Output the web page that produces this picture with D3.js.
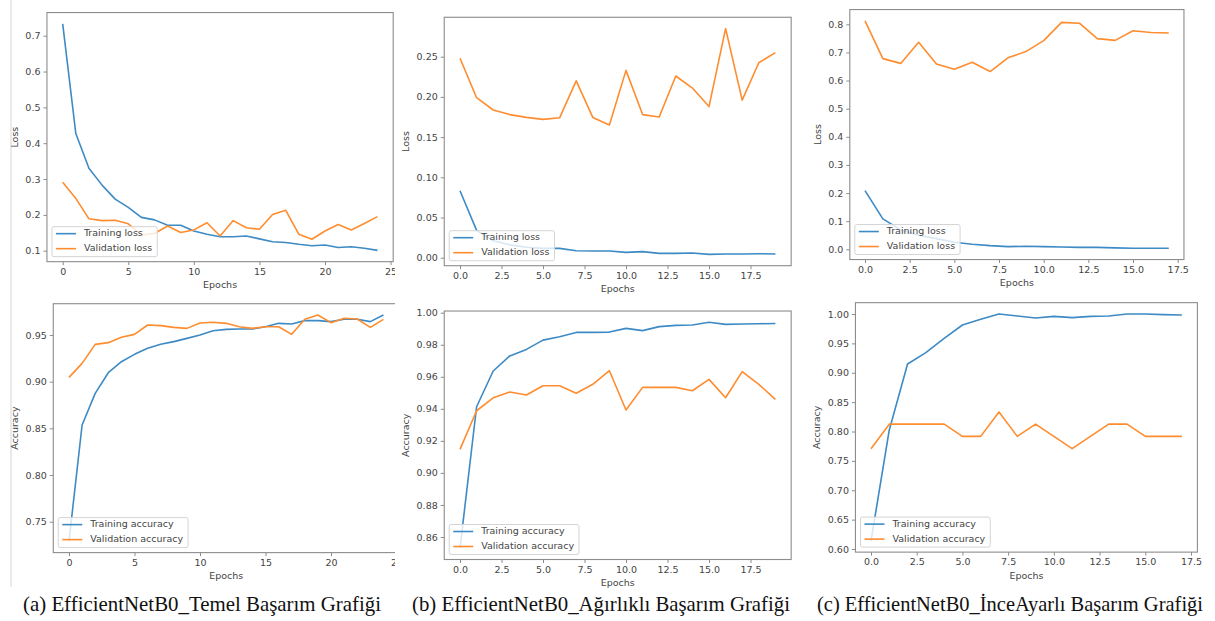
<!DOCTYPE html>
<html>
<head>
<meta charset="utf-8">
<script src="https://cdn.jsdelivr.net/npm/d3@7"></script>
<style>
body { margin: 0; background: #fff; }
svg { display: block; }
</style>
</head>
<body>
<svg id="fig" width="1215" height="621"></svg>
<script>
// epochs
const epochsA = d3.range(25);
const epochsB = d3.range(20);
const epochsC = d3.range(18);

// (a) Temel
const trainLossA = [0.733, 0.427, 0.330, 0.283, 0.244, 0.221, 0.193, 0.186, 0.171, 0.171, 0.155, 0.146, 0.139, 0.139, 0.141, 0.133, 0.125, 0.123, 0.118, 0.114, 0.116, 0.109, 0.111, 0.107, 0.101];
const valLossA = [0.291, 0.246, 0.189, 0.184, 0.185, 0.175, 0.144, 0.148, 0.169, 0.151, 0.158, 0.178, 0.141, 0.184, 0.164, 0.160, 0.201, 0.213, 0.146, 0.132, 0.155, 0.173, 0.158, 0.176, 0.195];
const trainAccA = [0.729, 0.8536, 0.8875, 0.9096, 0.9214, 0.9293, 0.9357, 0.940, 0.9429, 0.9464, 0.950, 0.9546, 0.956, 0.9564, 0.9564, 0.9589, 0.9625, 0.9618, 0.9654, 0.9654, 0.9643, 0.9668, 0.9668, 0.9643, 0.9714];
const valAccA = [0.9046, 0.9196, 0.940, 0.9418, 0.9475, 0.9507, 0.9607, 0.960, 0.9582, 0.9571, 0.9629, 0.9636, 0.9625, 0.9589, 0.9571, 0.9589, 0.9589, 0.9507, 0.9668, 0.9714, 0.9632, 0.9679, 0.9671, 0.9582, 0.9668];

// (b) Ağırlıklı
const trainLossB = [0.0833, 0.034, 0.021, 0.016, 0.013, 0.0116, 0.0116, 0.0087, 0.0083, 0.0083, 0.0066, 0.0075, 0.0054, 0.0054, 0.0058, 0.0041, 0.0046, 0.0046, 0.005, 0.0046];
const valLossB = [0.248, 0.199, 0.1837, 0.178, 0.1745, 0.172, 0.174, 0.220, 0.1745, 0.165, 0.233, 0.178, 0.175, 0.226, 0.211, 0.188, 0.285, 0.196, 0.2425, 0.255];
const trainAccB = [0.853, 0.9413, 0.9636, 0.973, 0.9771, 0.9829, 0.985, 0.9877, 0.9877, 0.9879, 0.9902, 0.9888, 0.9913, 0.9921, 0.9923, 0.994, 0.9927, 0.9929, 0.9931, 0.9933];
const valAccB = [0.9147, 0.9388, 0.9469, 0.9505, 0.9486, 0.9544, 0.9544, 0.9497, 0.9553, 0.9638, 0.9393, 0.9534, 0.9534, 0.9534, 0.9513, 0.9584, 0.9469, 0.9632, 0.9553, 0.9459];

// (c) İnceAyarlı
const trainLossC = [0.2085, 0.108, 0.069, 0.05, 0.038, 0.025, 0.018, 0.013, 0.0095, 0.011, 0.0095, 0.008, 0.007, 0.007, 0.005, 0.004, 0.004, 0.004];
const valLossC = [0.812, 0.678, 0.661, 0.736, 0.659, 0.640, 0.665, 0.632, 0.681, 0.703, 0.742, 0.807, 0.804, 0.749, 0.743, 0.777, 0.771, 0.769];
const trainAccC = [0.614, 0.8026, 0.9149, 0.9342, 0.9586, 0.9813, 0.9909, 1.0, 0.9966, 0.9932, 0.996, 0.9938, 0.996, 0.9966, 1.0, 1.0, 0.9989, 0.9983];
const valAccC = [0.7708, 0.8125, 0.8125, 0.8125, 0.8125, 0.7917, 0.7917, 0.8333, 0.7917, 0.8125, 0.7917, 0.7708, 0.7917, 0.8125, 0.8125, 0.7917, 0.7917, 0.7917];

// tick labels
const xTicksA = [0, 5, 10, 15, 20, 25];
const xTicksBC = [0, 2.5, 5, 7.5, 10, 12.5, 15, 17.5];
const yTicksLossA = [0.1, 0.2, 0.3, 0.4, 0.5, 0.6, 0.7];
const yTicksLossB = [0, 0.05, 0.10, 0.15, 0.20, 0.25];
const yTicksLossC = [0, 0.1, 0.2, 0.3, 0.4, 0.5, 0.6, 0.7, 0.8];
const yTicksAccA = [0.75, 0.80, 0.85, 0.90, 0.95];
const yTicksAccB = [0.86, 0.88, 0.90, 0.92, 0.94, 0.96, 0.98, 1.00];
const yTicksAccC = [0.60, 0.65, 0.70, 0.75, 0.80, 0.85, 0.90, 0.95, 1.00];

const captions = [
  {text: '(a) EfficientNetB0_Temel Başarım Grafiği', x: 23, w: 358},
  {text: '(b) EfficientNetB0_Ağırlıklı Başarım Grafiği', x: 412, w: 378},
  {text: '(c) EfficientNetB0_İnceAyarlı Başarım Grafiği', x: 817, w: 386}
];

const blue = '#3d8ac4', orange = '#ff8c2e';
const textCol = '#444', frameCol = '#8c8c8c';
const font = '"DejaVu Sans", sans-serif';

// layout: pixel positions of two reference ticks per axis
const panels = [
  {x: epochsA, train: trainLossA, val: valLossA, kind: 'loss', xt: xTicksA, xf: d3.format('d'), yt: yTicksLossA, yf: d3.format('.1f'),
   xd: [0, 20], xr: [62.7, 325], yd: [0.1, 0.7], yr: [250.7, 35.7], ylabX: 15, clip: 395},
  {x: epochsB, train: trainLossB, val: valLossB, kind: 'loss', xt: xTicksBC, xf: d3.format('.1f'), yt: yTicksLossB, yf: d3.format('.2f'),
   xd: [0, 17.5], xr: [460, 750.5], yd: [0, 0.25], yr: [257.7, 56.7], ylabX: 406.7},
  {x: epochsC, train: trainLossC, val: valLossC, kind: 'loss', xt: xTicksBC, xf: d3.format('.1f'), yt: yTicksLossC, yf: d3.format('.1f'),
   xd: [0, 17.5], xr: [865, 1177.7], yd: [0, 0.8], yr: [249.3, 24.3], ylabX: 818},
  {x: epochsA, train: trainAccA, val: valAccA, kind: 'accuracy', xt: xTicksA, xf: d3.format('d'), yt: yTicksAccA, yf: d3.format('.2f'),
   xd: [0, 20], xr: [69, 331], yd: [0.75, 0.95], yr: [521.7, 335], ylabX: 15, clip: 395},
  {x: epochsB, train: trainAccB, val: valAccB, kind: 'accuracy', xt: xTicksBC, xf: d3.format('.1f'), yt: yTicksAccB, yf: d3.format('.2f'),
   xd: [0, 17.5], xr: [460, 750.5], yd: [0.86, 1.0], yr: [537, 312.7], ylabX: 406.7},
  {x: epochsC, train: trainAccC, val: valAccC, kind: 'accuracy', xt: xTicksBC, xf: d3.format('.1f'), yt: yTicksAccC, yf: d3.format('.2f'),
   xd: [0, 17.5], xr: [871, 1191], yd: [0.6, 1.0], yr: [549, 314], ylabX: 817.7}
];

const svg = d3.select('#fig');

// thin page border line on the left of the first column
svg.append('line').attr('x1', 11).attr('x2', 11).attr('y1', 0).attr('y2', 587)
  .attr('stroke', '#d6d6d6').attr('stroke-width', 1);

panels.forEach((p, i) => {
  const xs = d3.scaleLinear().domain(p.xd).range(p.xr);
  const ys = d3.scaleLinear().domain(p.yd).range(p.yr);
  const n = p.x.length - 1;
  const all = p.train.concat(p.val);
  const lo = d3.min(all), hi = d3.max(all), m = (hi - lo) * 0.05;
  const L = xs(-0.05 * n), R = xs(1.05 * n), T = ys(hi + m), B = ys(lo - m);

  let g = svg.append('g');
  if (p.clip) {
    svg.append('clipPath').attr('id', 'clip' + i)
      .append('rect').attr('x', 0).attr('y', 0).attr('width', p.clip).attr('height', 621);
    g.attr('clip-path', `url(#clip${i})`);
  }

  // axes
  const xa = g.append('g').attr('transform', `translate(0,${B})`)
    .call(d3.axisBottom(xs).tickValues(p.xt).tickFormat(p.xf).tickSize(3.5).tickPadding(3));
  const ya = g.append('g').attr('transform', `translate(${L},0)`)
    .call(d3.axisLeft(ys).tickValues(p.yt).tickFormat(p.yf).tickSize(3.5).tickPadding(3));
  [xa, ya].forEach(a => {
    a.select('.domain').remove();
    a.selectAll('line').attr('stroke', frameCol);
    a.selectAll('text').attr('fill', textCol).style('font', `9.5px ${font}`);
  });

  const line = d3.line().x((d, j) => xs(p.x[j])).y(d => ys(d));
  g.append('path').datum(p.train).attr('d', line)
    .attr('fill', 'none').attr('stroke', blue).attr('stroke-width', 1.6).attr('stroke-linejoin', 'round');
  g.append('path').datum(p.val).attr('d', line)
    .attr('fill', 'none').attr('stroke', orange).attr('stroke-width', 1.6).attr('stroke-linejoin', 'round');

  g.append('rect').attr('x', L).attr('y', T).attr('width', R - L).attr('height', B - T)
    .attr('fill', 'none').attr('stroke', frameCol).attr('stroke-width', 1.1);

  // axis labels
  g.append('text').attr('x', (L + R) / 2).attr('y', B + 24).attr('text-anchor', 'middle')
    .attr('dominant-baseline', 'middle').attr('fill', textCol).style('font', `9.5px ${font}`).text('Epochs');
  g.append('text').attr('transform', `translate(${p.ylabX},${(T + B) / 2}) rotate(-90)`)
    .attr('text-anchor', 'middle').attr('dominant-baseline', 'middle')
    .attr('fill', textCol).style('font', `9.5px ${font}`)
    .text(p.kind === 'loss' ? 'Loss' : 'Accuracy');

  // legend, lower left
  const names = ['Training ' + p.kind, 'Validation ' + p.kind];
  const lg = g.append('g');
  const box = lg.append('rect');
  const lx = L + 5, ly = B - 5 - 30;
  let w = 0;
  names.forEach((nm, k) => {
    const yy = ly + 7 + k * 15;
    lg.append('line').attr('x1', lx + 4).attr('x2', lx + 24).attr('y1', yy).attr('y2', yy)
      .attr('stroke', k ? orange : blue).attr('stroke-width', 1.6);
    const t = lg.append('text').attr('x', lx + 32).attr('y', yy).attr('dominant-baseline', 'middle')
      .attr('fill', textCol).style('font', `9.5px ${font}`).text(nm);
    w = Math.max(w, t.node().getComputedTextLength());
  });
  box.attr('x', lx).attr('y', ly).attr('width', 32 + w + 5).attr('height', 30).attr('rx', 2)
    .attr('fill', 'rgba(255,255,255,0.8)').attr('stroke', '#d4d4d4').attr('stroke-width', 1);
});

captions.forEach(c => {
  svg.append('text').attr('x', c.x).attr('y', 611)
    .attr('textLength', c.w).attr('lengthAdjust', 'spacingAndGlyphs')
    .attr('fill', '#111').style('font', '21px "Liberation Serif", "Times New Roman", serif')
    .text(c.text);
});
</script>
</body>
</html>
